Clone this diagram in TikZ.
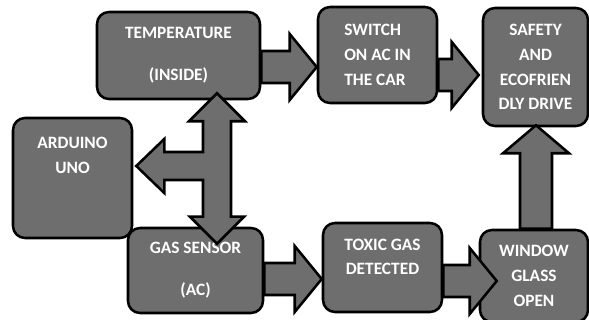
\documentclass[tikz,border=0pt]{standalone}
\usepackage{fontspec}
\setmainfont{Carlito}
\usetikzlibrary{calc}

\definecolor{boxgrey}{HTML}{6E6E6E}
\tikzset{
  box/.style={draw=black, line width=1.9pt, fill=boxgrey, rounded corners=9pt,
    inner sep=0pt, text=white, align=center,
    font=\fontsize{13}{18.5}\selectfont\bfseries},
  boxtxt/.style={text=white, align=center, inner sep=0pt,
    font=\fontsize{13}{18.5}\selectfont\bfseries},
  blk/.style={draw=black, line width=1.9pt, fill=boxgrey, line join=miter}
}

\begin{document}
\begin{tikzpicture}[x=0.75pt, y=-0.75pt]
    \useasboundingbox (0,0) rectangle (589,320);

    % Boxes
    \node[box, minimum width=122.25pt, minimum height=65.25pt] (temp) at (178.5,55.5)
        {TEMPERATURE\\[13pt](INSIDE)};
    \node[box, minimum width=89.25pt, minimum height=72pt, align=left] (switch) at (377.5,55)
        {SWITCH\\ON AC IN\\THE CAR};
    \node[box, minimum width=78.75pt, minimum height=88.5pt] (safety) at (535.5,67)
        {SAFETY\\AND\\ECOFRIEN\\DLY DRIVE};
    \node[box, minimum width=89.25pt, minimum height=90pt,
        label={[boxtxt, yshift=17pt]center:{ARDUINO\\UNO}}] (arduino) at (72.5,178) {};
    \node[box, minimum width=101.25pt, minimum height=63.75pt] (gas) at (195.5,270.5)
        {GAS SENSOR\\[13pt](AC)};
    \node[box, minimum width=89.25pt, minimum height=66.75pt,
        label={[boxtxt, yshift=8pt]center:{TOXIC GAS\\DETECTED}}] (toxic) at (382.5,267.5) {};
    \node[box, minimum width=81pt, minimum height=69pt] (window) at (534,276)
        {WINDOW\\GLASS\\OPEN};

    % Block arrows to the right
    \foreach \a/\b/\dy/\dx in {temp/switch/12/0, switch/safety/8/-3,
                               gas/toxic/11.5/0, toxic/window/5/18} {
        \filldraw[blk] ($(\a.east |- \b.west)+(0,\dy-16)$) -- ($(\b.west)+(\dx-27,\dy-16)$)
            -- ($(\b.west)+(\dx-27,\dy-33)$) -- ($(\b.west)+(\dx,\dy)$)
            -- ($(\b.west)+(\dx-27,\dy+33)$) -- ($(\b.west)+(\dx-27,\dy+16)$)
            -- ($(\a.east |- \b.west)+(0,\dy+16)$) -- cycle;
    }

    % Block arrow up
    \coordinate (upT) at ($(safety.south)+(0.5,-2)$);
    \coordinate (upB) at (upT |- window.north);
    \filldraw[blk] ($(upB)+(-16,0)$) -- ($(upT)+(-16,28)$) -- ($(upT)+(-33,28)$) -- (upT)
        -- ($(upT)+(33,28)$) -- ($(upT)+(16,28)$) -- ($(upB)+(16,0)$) -- cycle;

    % Three-way arrow
    \coordinate (hub) at (217,166);
    \coordinate (tipT) at ($(hub |- temp.south)+(0,-7)$);
    \coordinate (tipB) at ($(hub |- gas.north)+(0,17)$);
    \coordinate (tipL) at ($(arduino.east |- hub)+(3,0)$);
    \filldraw[blk] (tipT) -- ($(tipT)+(28,28)$) -- ($(tipT)+(14,28)$)
        -- ($(tipB)+(14,-27)$) -- ($(tipB)+(27,-27)$) -- (tipB)
        -- ($(tipB)+(-27,-27)$) -- ($(tipB)+(-14,-27)$) -- ($(hub)+(-14,14)$)
        -- ($(tipL)+(28,14)$) -- ($(tipL)+(28,27)$) -- (tipL)
        -- ($(tipL)+(28,-27)$) -- ($(tipL)+(28,-14)$) -- ($(hub)+(-14,-14)$)
        -- ($(tipT)+(-14,28)$) -- ($(tipT)+(-28,28)$) -- cycle;
\end{tikzpicture}
\end{document}
